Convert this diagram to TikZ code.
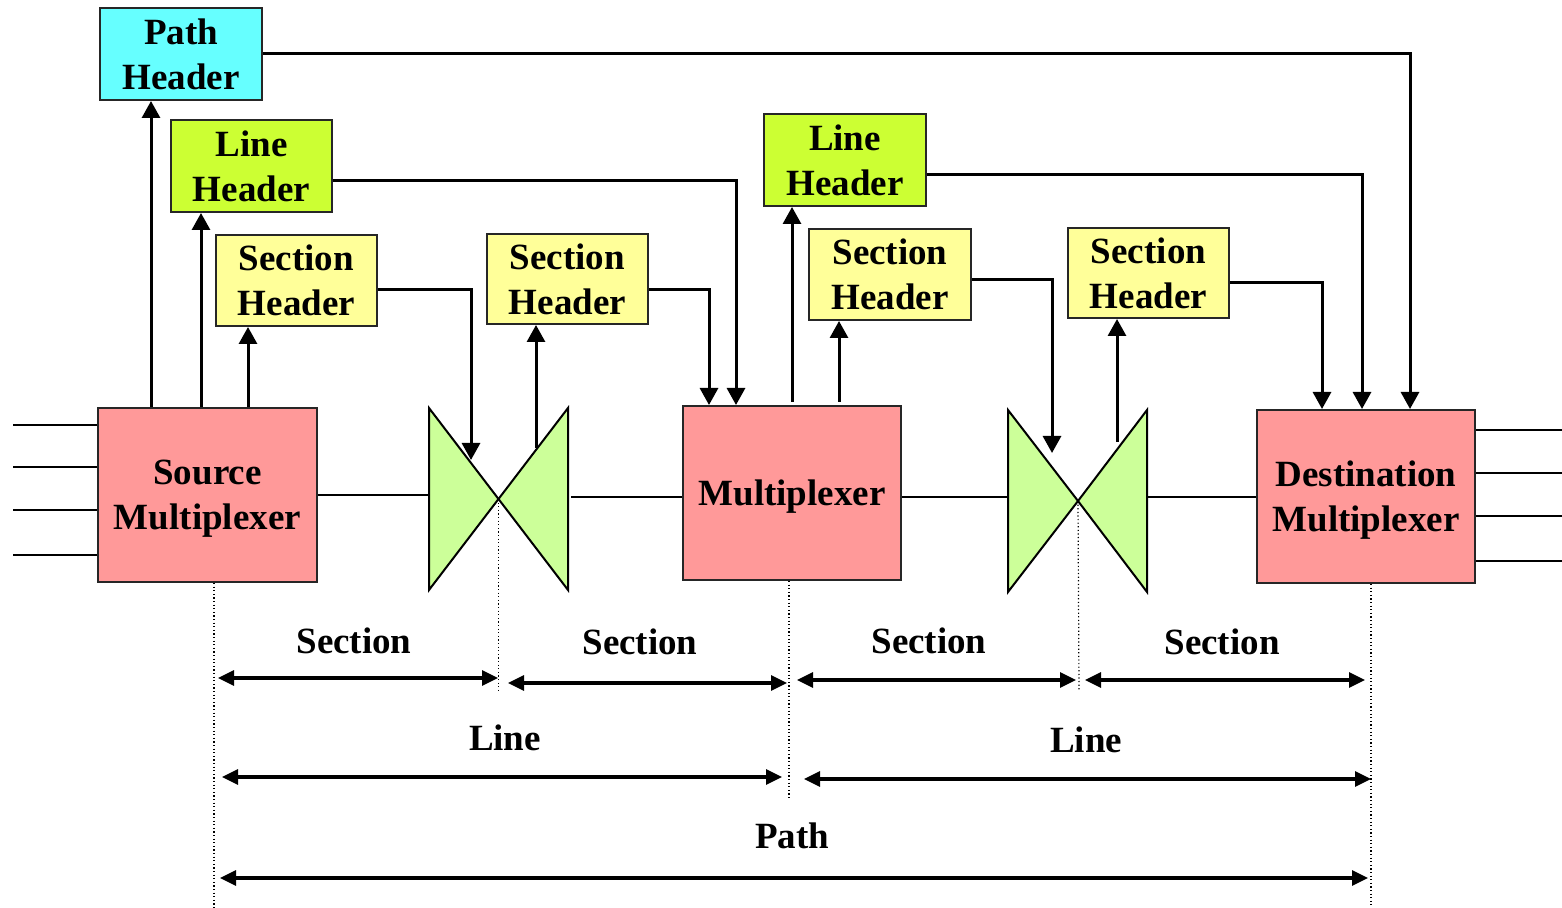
\documentclass[tikz,border=0pt]{standalone}
\usepackage{fontspec}
\setmainfont{Liberation Serif}[BoldFont={Liberation Serif Bold}]
\usetikzlibrary{arrows.meta,calc}
\definecolor{pathc}{HTML}{66FFFF}
\definecolor{linec}{HTML}{CCFF33}
\definecolor{secc}{HTML}{FFFF99}
\definecolor{muxc}{HTML}{FF9999}
\definecolor{bowc}{HTML}{CCFF99}
\tikzset{
  hdr/.style={draw=black!85, line width=1pt, minimum width=80.5pt, minimum height=45.5pt, inner sep=0pt, align=center,
    font=\fontsize{18.5}{22.5}\selectfont\bfseries},
  muxbox/.style={draw=black!85, line width=1pt, fill=muxc, minimum width=109pt, minimum height=87pt, inner sep=0pt, align=center,
    text depth=0pt, font=\fontsize{18.5}{22.5}\selectfont\bfseries},
  lbl/.style={font=\fontsize{18.5}{22.5}\selectfont\bfseries, inner sep=0pt},
  arr/.style={line width=1.5pt, -{Triangle[length=8.5pt,width=9pt]}},
  conn/.style={line width=1pt},
  dim/.style={line width=1.6pt, {Triangle[length=8pt,width=7.5pt]}-{Triangle[length=8pt,width=7.5pt]}},
  dots/.style={line width=0.6pt, dash pattern=on 0.6pt off 1.2pt},
  bow/.style={draw=black, line width=1pt, fill=bowc, line join=miter}
}
\begin{document}
\begin{tikzpicture}[x=0.5pt,y=-0.5pt]
\useasboundingbox (0,0) rectangle (1562,908);
% header boxes
\node[hdr, fill=pathc, minimum width=81pt, minimum height=46pt] (pathH) at (181,54) {Path\\Header};
\node[hdr, fill=linec, minimum height=46pt] (lineH1) at (251.5,166) {Line\\Header};
\node[hdr, fill=secc] (secH1) at (296.5,280.5) {Section\\Header};
\node[hdr, fill=secc, minimum height=45pt] (secH2) at (567.5,279) {Section\\Header};
\node[hdr, fill=linec, minimum width=81pt, minimum height=46pt] (lineH2) at (845,160) {Line\\Header};
\node[hdr, fill=secc, minimum width=81pt] (secH3) at (890,274.5) {Section\\Header};
\node[hdr, fill=secc, minimum height=45pt] (secH4) at (1148.5,273) {Section\\Header};
% multiplexers
\node[muxbox, minimum width=109.5pt] (src) at (207.5,495) {Source\\Multiplexer};
\node[muxbox] (mux) at (792,493) {Multiplexer};
\node[muxbox, minimum height=86.5pt] (dst) at (1366,496.5) {Destination\\Multiplexer};
% bowties
\coordinate (bt1) at (498.5,499);
\coordinate (bt2) at (1078,501);
\draw[bow] (429,408) -- (429,590) -- (bt1) -- cycle;
\draw[bow] (568,408) -- (568,590) -- (bt1) -- cycle;
\draw[bow] (1008,410) -- (1008,592) -- (bt2) -- cycle;
\draw[bow] (1147,410) -- (1147,592) -- (bt2) -- cycle;
% tributary lines
\foreach \y in {425,467,510,555} \draw[conn] (13,\y) -- (src.west |- 0,\y);
\foreach \y in {430,473,516,561} \draw[conn] (dst.east |- 0,\y) -- (1562,\y);
% main line
\draw[conn] (src.east |- 0,495) -- (429,495);
\draw[conn] (571,497) -- (mux.west |- 0,497);
\draw[conn] (mux.east |- 0,497) -- (1008,497);
\draw[conn] (1147,497) -- (dst.west |- 0,497);
% up arrows
\draw[arr] (src.north -| 151,0) -- (pathH.south -| 151,0);
\draw[arr] (src.north -| 201,0) -- (lineH1.south -| 201,0);
\draw[arr] (src.north -| 248,0) -- (secH1.south -| 248,0);
\draw[arr] ($(bt1)+(37.5,-51)$) -- (secH2.south -| 536,0);
\draw[arr] (792,402) -- (lineH2.south -| 792,0);
\draw[arr] (839,402) -- (secH3.south -| 839,0);
\draw[arr] ($(bt2)+(39,-59)$) -- (secH4.south -| 1117,0);
% down connectors
\draw[arr] (pathH.east) -| (dst.north -| 1410,0);
\draw[arr] (lineH1.east |- 0,181) -| (mux.north -| 736,0);
\draw[arr] (secH1.east |- 0,290) -| ($(bt1)+(-27.5,-39)$);
\draw[arr] (secH2.east |- 0,290) -| (mux.north -| 709,0);
\draw[arr] (lineH2.east |- 0,175) -| (dst.north -| 1362,0);
\draw[arr] (secH3.east |- 0,280) -| ($(bt2)+(-26,-48)$);
\draw[arr] (secH4.east |- 0,283) -| (dst.north -| 1322,0);
% dotted verticals
\draw[dots] (src.south -| 214,0) -- (214,908);
\draw[dots] (bt1) -- (498.5,690);
\draw[dots] (mux.south -| 789,0) -- (789,800);
\draw[dots] (bt2) -- (1079,690);
\draw[dots] (dst.south -| 1371,0) -- (1371,905);
% dimension arrows
\coordinate (s1a) at (218,678); \coordinate (s1b) at (498,678);
\coordinate (s2a) at (508,683); \coordinate (s2b) at (787,683);
\coordinate (s3a) at (797,680); \coordinate (s3b) at (1076,680);
\coordinate (s4a) at (1085,680); \coordinate (s4b) at (1365,680);
\coordinate (l1a) at (222,777); \coordinate (l1b) at (782,777);
\coordinate (l2a) at (804,779); \coordinate (l2b) at (1371,779);
\coordinate (pa) at (220,878); \coordinate (pb) at (1368,878);
\draw[dim] (s1a) -- (s1b);
\draw[dim] (s2a) -- (s2b);
\draw[dim] (s3a) -- (s3b);
\draw[dim] (s4a) -- (s4b);
\draw[dim] (l1a) -- (l1b);
\draw[dim] (l2a) -- (l2b);
\draw[dim] (pa) -- (pb);
\node[lbl] (t1) at (354,641) {Section};
\node[lbl] (t2) at (640,642) {Section};
\node[lbl] (t3) at (929,641) {Section};
\node[lbl] (t4) at (1222,642) {Section};
\node[lbl] (t5) at (505,738) {Line};
\node[lbl] (t6) at (1086,740) {Line};
\node[lbl] (t7) at (792,836) {Path};
\end{tikzpicture}
\end{document}
